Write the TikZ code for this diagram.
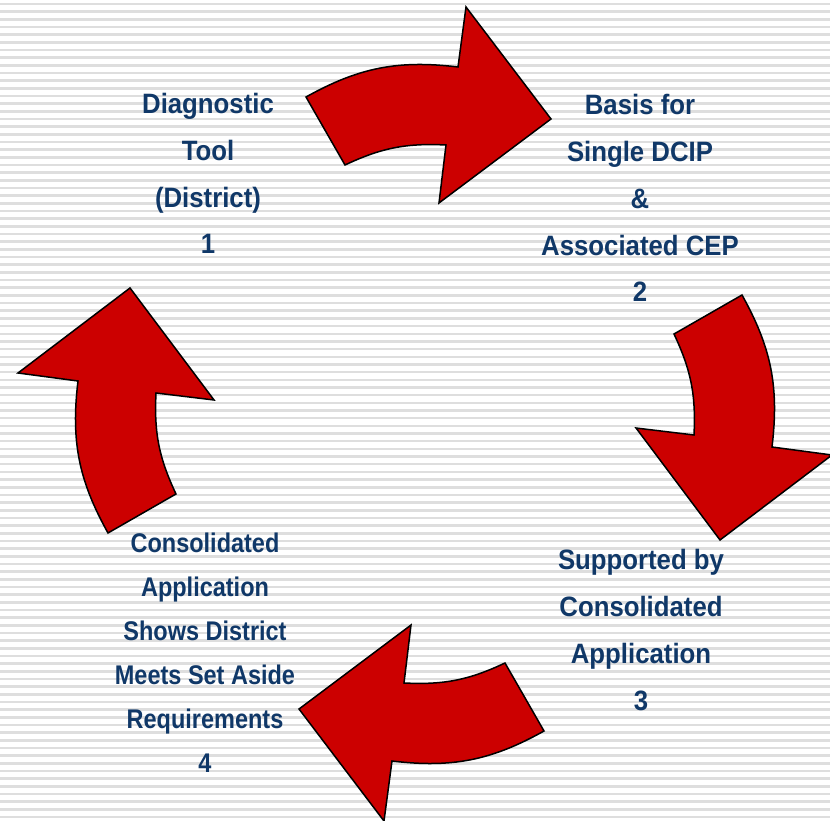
\documentclass[tikz,border=0pt]{standalone}
\usepackage{fontspec}
\setmainfont{Liberation Sans}
\newfontfamily\fa{Liberation Sans}[FakeStretch=0.92]
\newfontfamily\fb{Liberation Sans}[FakeStretch=0.87]
\definecolor{navy}{RGB}{16,56,104}
\definecolor{arrowred}{RGB}{204,0,0}
\definecolor{stripegray}{RGB}{222,222,222}
\tikzset{
  stripe/.style={draw=stripegray, line width=2.6pt},
  bigarrow/.style={fill=arrowred, draw=black, line width=1.5pt, line join=miter},
  lbl/.style={text=navy, align=center, inner sep=0pt, anchor=base},
  lblA/.style={lbl, font=\fa\bfseries\fontsize{28}{46.8}\selectfont},
  lblB/.style={lbl, font=\fb\bfseries\fontsize{27}{44}\selectfont},
}
\begin{document}
\begin{tikzpicture}[x=1pt,y=1pt]
\useasboundingbox (0,0) rectangle (830,820);
\fill[white] (0,0) rectangle (830,820);
\foreach \i in {0,...,106} {
  \draw[stripe] (0,{816-\i*7.67}) -- (830,{816-\i*7.67});
}
% four curved arrows, one shape rotated about the centre
\foreach \r in {0,-90,-180,-270} {
  \path[bigarrow, shift={(425,406)}, rotate=\r]
    (-119,317) to[bend left=18] (33,347) -- (41,407) -- (126,295)
    -- (14,211) -- (21,269) to[bend right=14] (-80,249) -- cycle;
}
% base anchor of a multi-line node lies on its last line
\node[lblA] (t1) at (208,566) {Diagnostic\\Tool\\(District)\\1};
\node[lblA] (t2) at (640,518) {Basis for\\Single DCIP\\\&\\Associated CEP\\2};
\node[lblA] (t3) at (641,110) {Supported by\\Consolidated\\Application\\3};
\node[lblB] (t4) at (205,48) {Consolidated\\Application\\Shows District\\Meets Set Aside\\Requirements\\4};
\end{tikzpicture}
\end{document}
